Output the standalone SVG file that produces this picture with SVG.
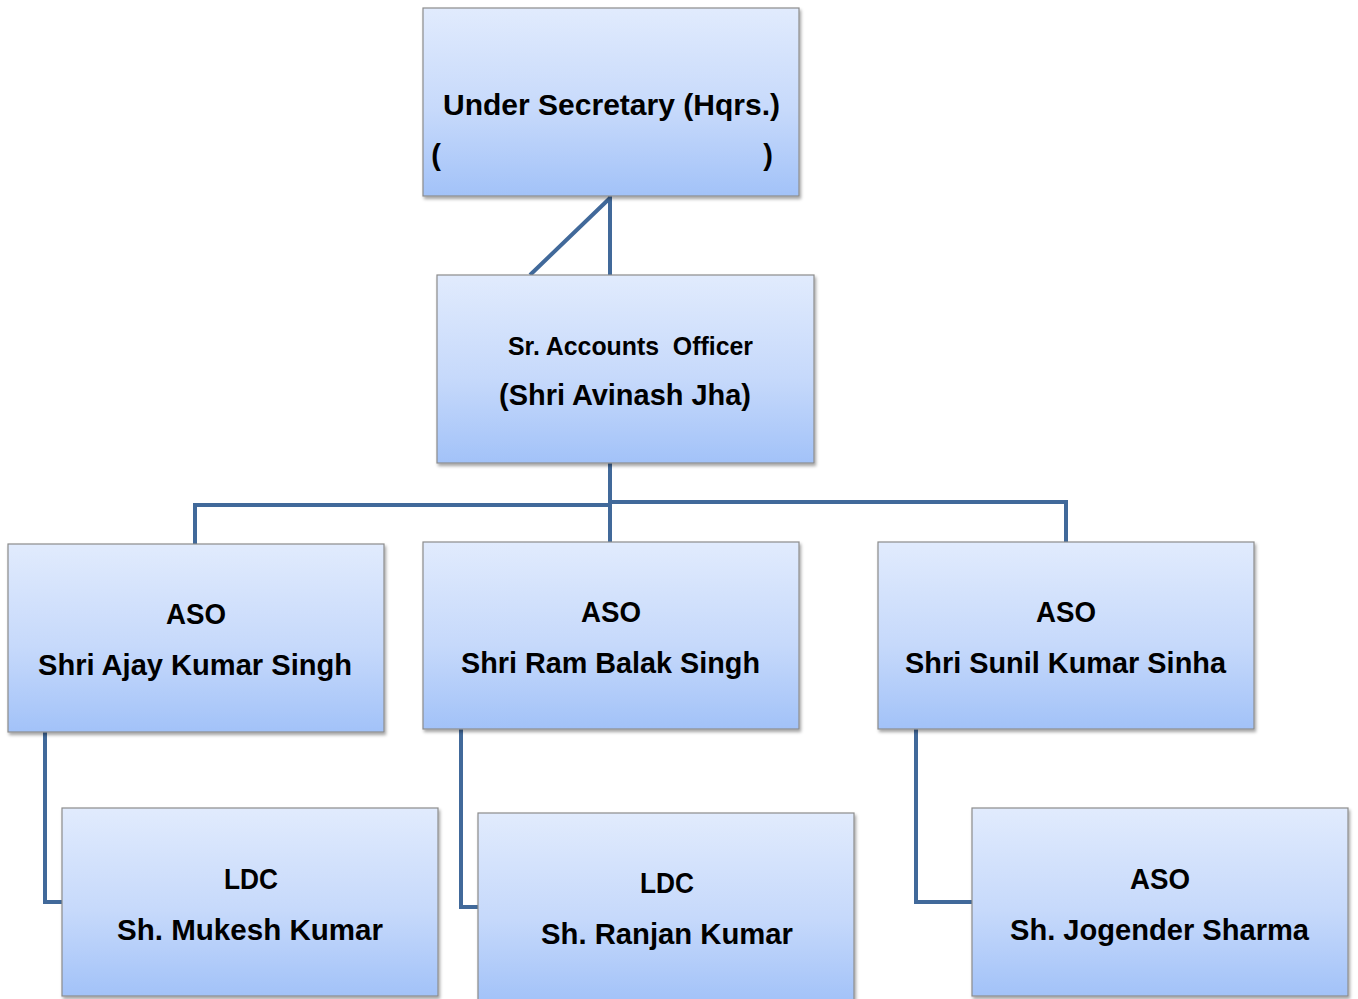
<svg xmlns="http://www.w3.org/2000/svg" width="1358" height="999" viewBox="0 0 1358 999">
<defs>
<linearGradient id="g" x1="0" y1="0" x2="0" y2="1">
<stop offset="0" stop-color="#e1ebfd"/>
<stop offset="0.55" stop-color="#c6d9fb"/>
<stop offset="1" stop-color="#a2c2f8"/>
</linearGradient>
<filter id="sh" x="-5%" y="-5%" width="112%" height="115%">
<feDropShadow dx="1.5" dy="2.5" stdDeviation="1.5" flood-color="#000" flood-opacity="0.35"/>
</filter>
</defs>
<style>
.box{fill:url(#g);stroke:#8c8c8c;stroke-width:1.2;filter:url(#sh)}
.t{font-family:"Liberation Sans",Arial,sans-serif;font-weight:bold;fill:#000;text-anchor:middle}
.c{fill:none;stroke:#41699a;stroke-width:4}
</style>
<rect width="1358" height="999" fill="#fff"/>
<g id="connectors">
<path class="c" d="M610 196V275M610 198L530 275"/>
<path class="c" d="M610 463V542M610 505H195V544M610 502H1066V542"/>
<path class="c" d="M45 732V902H62"/>
<path class="c" d="M461 729V907H478"/>
<path class="c" d="M916 729V902H972"/>
</g>
<g id="n-under-secretary">
<rect class="box" x="423" y="8" width="376" height="188"/>
<text class="t" x="611.5" y="115" font-size="29" textLength="337" lengthAdjust="spacingAndGlyphs">Under Secretary (Hqrs.)</text>
<text class="t" x="436" y="165" font-size="29">(</text>
<text class="t" x="768" y="165" font-size="29">)</text>
</g>
<g id="n-sao">
<rect class="box" x="437" y="275" width="377" height="188"/>
<text class="t" x="630.5" y="355" font-size="25" textLength="245" lengthAdjust="spacingAndGlyphs" xml:space="preserve" style="white-space:pre">Sr. Accounts  Officer</text>
<text class="t" x="625" y="405" font-size="29" textLength="252" lengthAdjust="spacingAndGlyphs">(Shri Avinash Jha)</text>
</g>
<g id="n-aso1">
<rect class="box" x="8" y="544" width="376" height="188"/>
<text class="t" x="196" y="624" font-size="29" textLength="60" lengthAdjust="spacingAndGlyphs">ASO</text>
<text class="t" x="195" y="675" font-size="29" textLength="314" lengthAdjust="spacingAndGlyphs">Shri Ajay Kumar Singh</text>
</g>
<g id="n-aso2">
<rect class="box" x="423" y="542" width="376" height="187"/>
<text class="t" x="611" y="622" font-size="29" textLength="60" lengthAdjust="spacingAndGlyphs">ASO</text>
<text class="t" x="610.5" y="673" font-size="29" textLength="299" lengthAdjust="spacingAndGlyphs">Shri Ram Balak Singh</text>
</g>
<g id="n-aso3">
<rect class="box" x="878" y="542" width="376" height="187"/>
<text class="t" x="1066" y="622" font-size="29" textLength="60" lengthAdjust="spacingAndGlyphs">ASO</text>
<text class="t" x="1065.5" y="673" font-size="29" textLength="321" lengthAdjust="spacingAndGlyphs">Shri Sunil Kumar Sinha</text>
</g>
<g id="n-ldc1">
<rect class="box" x="62" y="808" width="376" height="188"/>
<text class="t" x="251" y="889" font-size="29" textLength="54" lengthAdjust="spacingAndGlyphs">LDC</text>
<text class="t" x="250" y="940" font-size="29" textLength="266" lengthAdjust="spacingAndGlyphs">Sh. Mukesh Kumar</text>
</g>
<g id="n-ldc2">
<rect class="box" x="478" y="813" width="376" height="190"/>
<text class="t" x="667" y="893" font-size="29" textLength="54" lengthAdjust="spacingAndGlyphs">LDC</text>
<text class="t" x="667" y="944" font-size="29" textLength="252" lengthAdjust="spacingAndGlyphs">Sh. Ranjan Kumar</text>
</g>
<g id="n-aso4">
<rect class="box" x="972" y="808" width="376" height="188"/>
<text class="t" x="1160" y="889" font-size="29" textLength="60" lengthAdjust="spacingAndGlyphs">ASO</text>
<text class="t" x="1159.5" y="940" font-size="29" textLength="299" lengthAdjust="spacingAndGlyphs">Sh. Jogender Sharma</text>
</g>
</svg>
